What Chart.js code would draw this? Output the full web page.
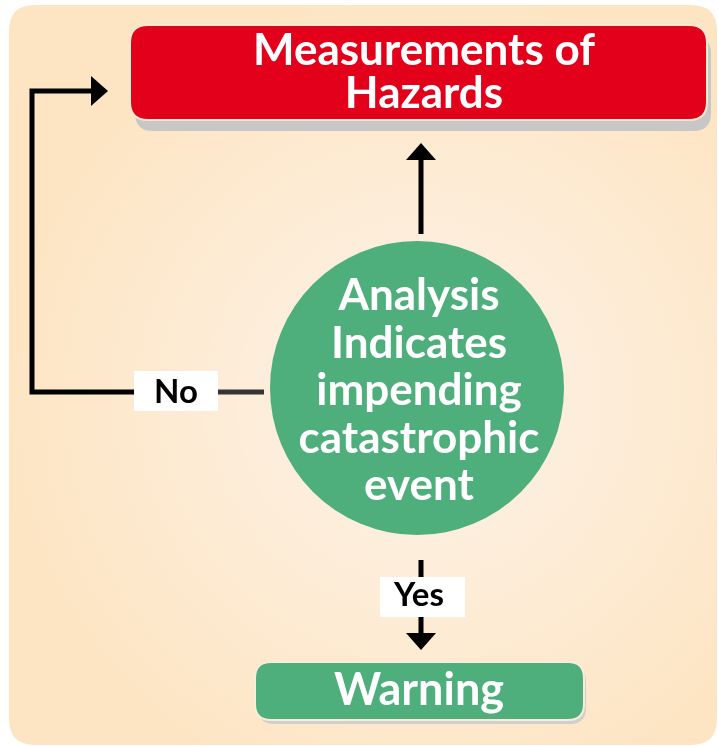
<!DOCTYPE html>
<html>
<head>
<meta charset="utf-8">
<script src="https://cdn.jsdelivr.net/npm/chart.js@4.4.1/dist/chart.umd.min.js"></script>
<style>
  html, body { margin: 0; padding: 0; background: #fff; }
  canvas { display: block; }
</style>
</head>
<body>
<canvas id="myChart" width="718" height="746"></canvas>
<script>
// flowchart content
var stepLabels = ['Measurements of\nHazards', 'Analysis\nIndicates\nimpending\ncatastrophic\nevent', 'Warning'];
var answerLabels = ['No', 'Yes'];

// layout (page coordinates, y goes down)
var layout = {
    panel: {x1: 9, y1: 5, x2: 717, y2: 745, r: 26},
    topBox: {x1: 130, y1: 25, x2: 707, y2: 120, r: 18},
    circle: {x: 417, y: 388, r: 147},
    warnBox: {x1: 255, y1: 662, x2: 584, y2: 720, r: 16},
    noTag: {x1: 134, y1: 371, x2: 218, y2: 411},
    yesTag: {x1: 380, y1: 577, x2: 465, y2: 617}
};
var noLoop = [{x: 140, y: 392}, {x: 32, y: 392}, {x: 32, y: 91}, {x: 95, y: 91}];
var noTail = [{x: 200, y: 392}, {x: 264, y: 392}];
var upLine = [{x: 421, y: 234}, {x: 421, y: 158}];
var yesLine = [{x: 421, y: 560}, {x: 421, y: 636}];

function roundRect(c, x1, y1, x2, y2, r) {
    c.beginPath();
    c.moveTo(x1 + r, y1);
    c.lineTo(x2 - r, y1);
    c.quadraticCurveTo(x2, y1, x2, y1 + r);
    c.lineTo(x2, y2 - r);
    c.quadraticCurveTo(x2, y2, x2 - r, y2);
    c.lineTo(x1 + r, y2);
    c.quadraticCurveTo(x1, y2, x1, y2 - r);
    c.lineTo(x1, y1 + r);
    c.quadraticCurveTo(x1, y1, x1 + r, y1);
    c.closePath();
}

// arrow head: tip point, direction 'up' / 'down' / 'right'
function arrowHead(c, tx, ty, dir) {
    var len = 17, half = 15;
    c.beginPath();
    if (dir === 'up') {
        c.moveTo(tx, ty); c.lineTo(tx - half, ty + len); c.lineTo(tx + half, ty + len);
    } else if (dir === 'down') {
        c.moveTo(tx, ty); c.lineTo(tx - half, ty - len); c.lineTo(tx + half, ty - len);
    } else {
        c.moveTo(tx, ty); c.lineTo(tx - len, ty - half); c.lineTo(tx - len, ty + half);
    }
    c.closePath();
    c.fillStyle = '#000';
    c.fill();
}

var flowPlugin = {
    id: 'flow',
    beforeDraw: function(chart) {
        var c = chart.ctx, sx = chart.scales.x, sy = chart.scales.y;
        var p = layout.panel;
        c.save();
        var g = c.createRadialGradient(sx.getPixelForValue(420), sy.getPixelForValue(400), 0,
                                       sx.getPixelForValue(420), sy.getPixelForValue(400), 420);
        g.addColorStop(0, '#fcf3e9');
        g.addColorStop(0.55, '#fdebd4');
        g.addColorStop(1, '#fde5c3');
        roundRect(c, sx.getPixelForValue(p.x1), sy.getPixelForValue(p.y1),
                  sx.getPixelForValue(p.x2), sy.getPixelForValue(p.y2), p.r);
        c.fillStyle = g;
        c.fill();
        c.restore();
    },
    afterDatasetsDraw: function(chart) {
        var c = chart.ctx, sx = chart.scales.x, sy = chart.scales.y;
        var X = function(v) { return sx.getPixelForValue(v); };
        var Y = function(v) { return sy.getPixelForValue(v); };
        c.save();

        // top box
        var b = layout.topBox;
        roundRect(c, X(b.x1) + 5, Y(b.y1) + 11, X(b.x2) + 4, Y(b.y2) + 11, b.r);
        c.fillStyle = '#c7c7c7';
        c.fill();
        roundRect(c, X(b.x1), Y(b.y1), X(b.x2), Y(b.y2), b.r);
        c.fillStyle = '#e2001b';
        c.fill();
        c.lineWidth = 2;
        c.strokeStyle = '#fbe9d0';
        c.stroke();

        // warning box
        var w = layout.warnBox;
        roundRect(c, X(w.x1) + 3, Y(w.y1) + 4, X(w.x2) + 2, Y(w.y2) + 4, w.r);
        c.fillStyle = '#cfcfcf';
        c.fill();
        roundRect(c, X(w.x1), Y(w.y1), X(w.x2), Y(w.y2), w.r);
        c.fillStyle = '#4faf7c';
        c.fill();
        c.lineWidth = 2;
        c.strokeStyle = '#fbecd6';
        c.stroke();

        // arrow heads
        arrowHead(c, X(108), Y(91), 'right');
        arrowHead(c, X(421), Y(143), 'up');
        arrowHead(c, X(421), Y(650), 'down');

        // answer tags
        c.fillStyle = '#fff';
        [layout.noTag, layout.yesTag].forEach(function(t) {
            c.fillRect(X(t.x1), Y(t.y1), X(t.x2) - X(t.x1), Y(t.y2) - Y(t.y1));
        });

        c.textAlign = 'center';
        c.textBaseline = 'alphabetic';
        c.fillStyle = '#000';
        c.font = 'bold 33px Lato';
        c.fillText(answerLabels[0], X(176), Y(403));
        c.fillText(answerLabels[1], X(419), Y(606));

        // step texts
        c.fillStyle = '#fff';
        c.font = 'bold 44px Lato';
        var lines = stepLabels[0].split('\n');
        c.fillText(lines[0], X(424), Y(65));
        c.fillText(lines[1], X(424), Y(108));

        lines = stepLabels[1].split('\n');
        var base = [310, 358, 405, 453, 500];
        lines.forEach(function(s, i) { c.fillText(s, X(419), Y(base[i])); });

        c.font = 'bold 45px Lato';
        c.fillText(stepLabels[2], X(419), Y(705));
        c.restore();
    }
};

var ctx = document.getElementById('myChart');
var myChart = new Chart(ctx, {
    type: 'scatter',
    data: {
        datasets: [{
            label: 'decision',
            data: [{x: layout.circle.x, y: layout.circle.y}],
            pointRadius: layout.circle.r,
            pointBackgroundColor: '#4faf7c',
            pointBorderWidth: 0,
            pointBorderColor: '#4faf7c'
        }, {
            label: 'no loop',
            data: noLoop,
            showLine: true,
            borderColor: '#000',
            borderWidth: 5,
            pointRadius: 0,
            borderJoinStyle: 'miter'
        }, {
            label: 'no tail',
            data: noTail,
            showLine: true,
            borderColor: '#353535',
            borderWidth: 5,
            pointRadius: 0
        }, {
            label: 'up',
            data: upLine,
            showLine: true,
            borderColor: '#000',
            borderWidth: 5,
            pointRadius: 0
        }, {
            label: 'yes',
            data: yesLine,
            showLine: true,
            borderColor: '#000',
            borderWidth: 5,
            pointRadius: 0
        }]
    },
    options: {
        responsive: false,
        animation: false,
        devicePixelRatio: 1,
        events: [],
        layout: {padding: 0, autoPadding: false},
        scales: {
            x: {type: 'linear', min: 0, max: 718, display: false},
            y: {type: 'linear', min: 0, max: 746, reverse: true, display: false}
        },
        plugins: {
            legend: {display: false},
            tooltip: {enabled: false}
        }
    },
    plugins: [flowPlugin]
});
</script>
</body>
</html>
